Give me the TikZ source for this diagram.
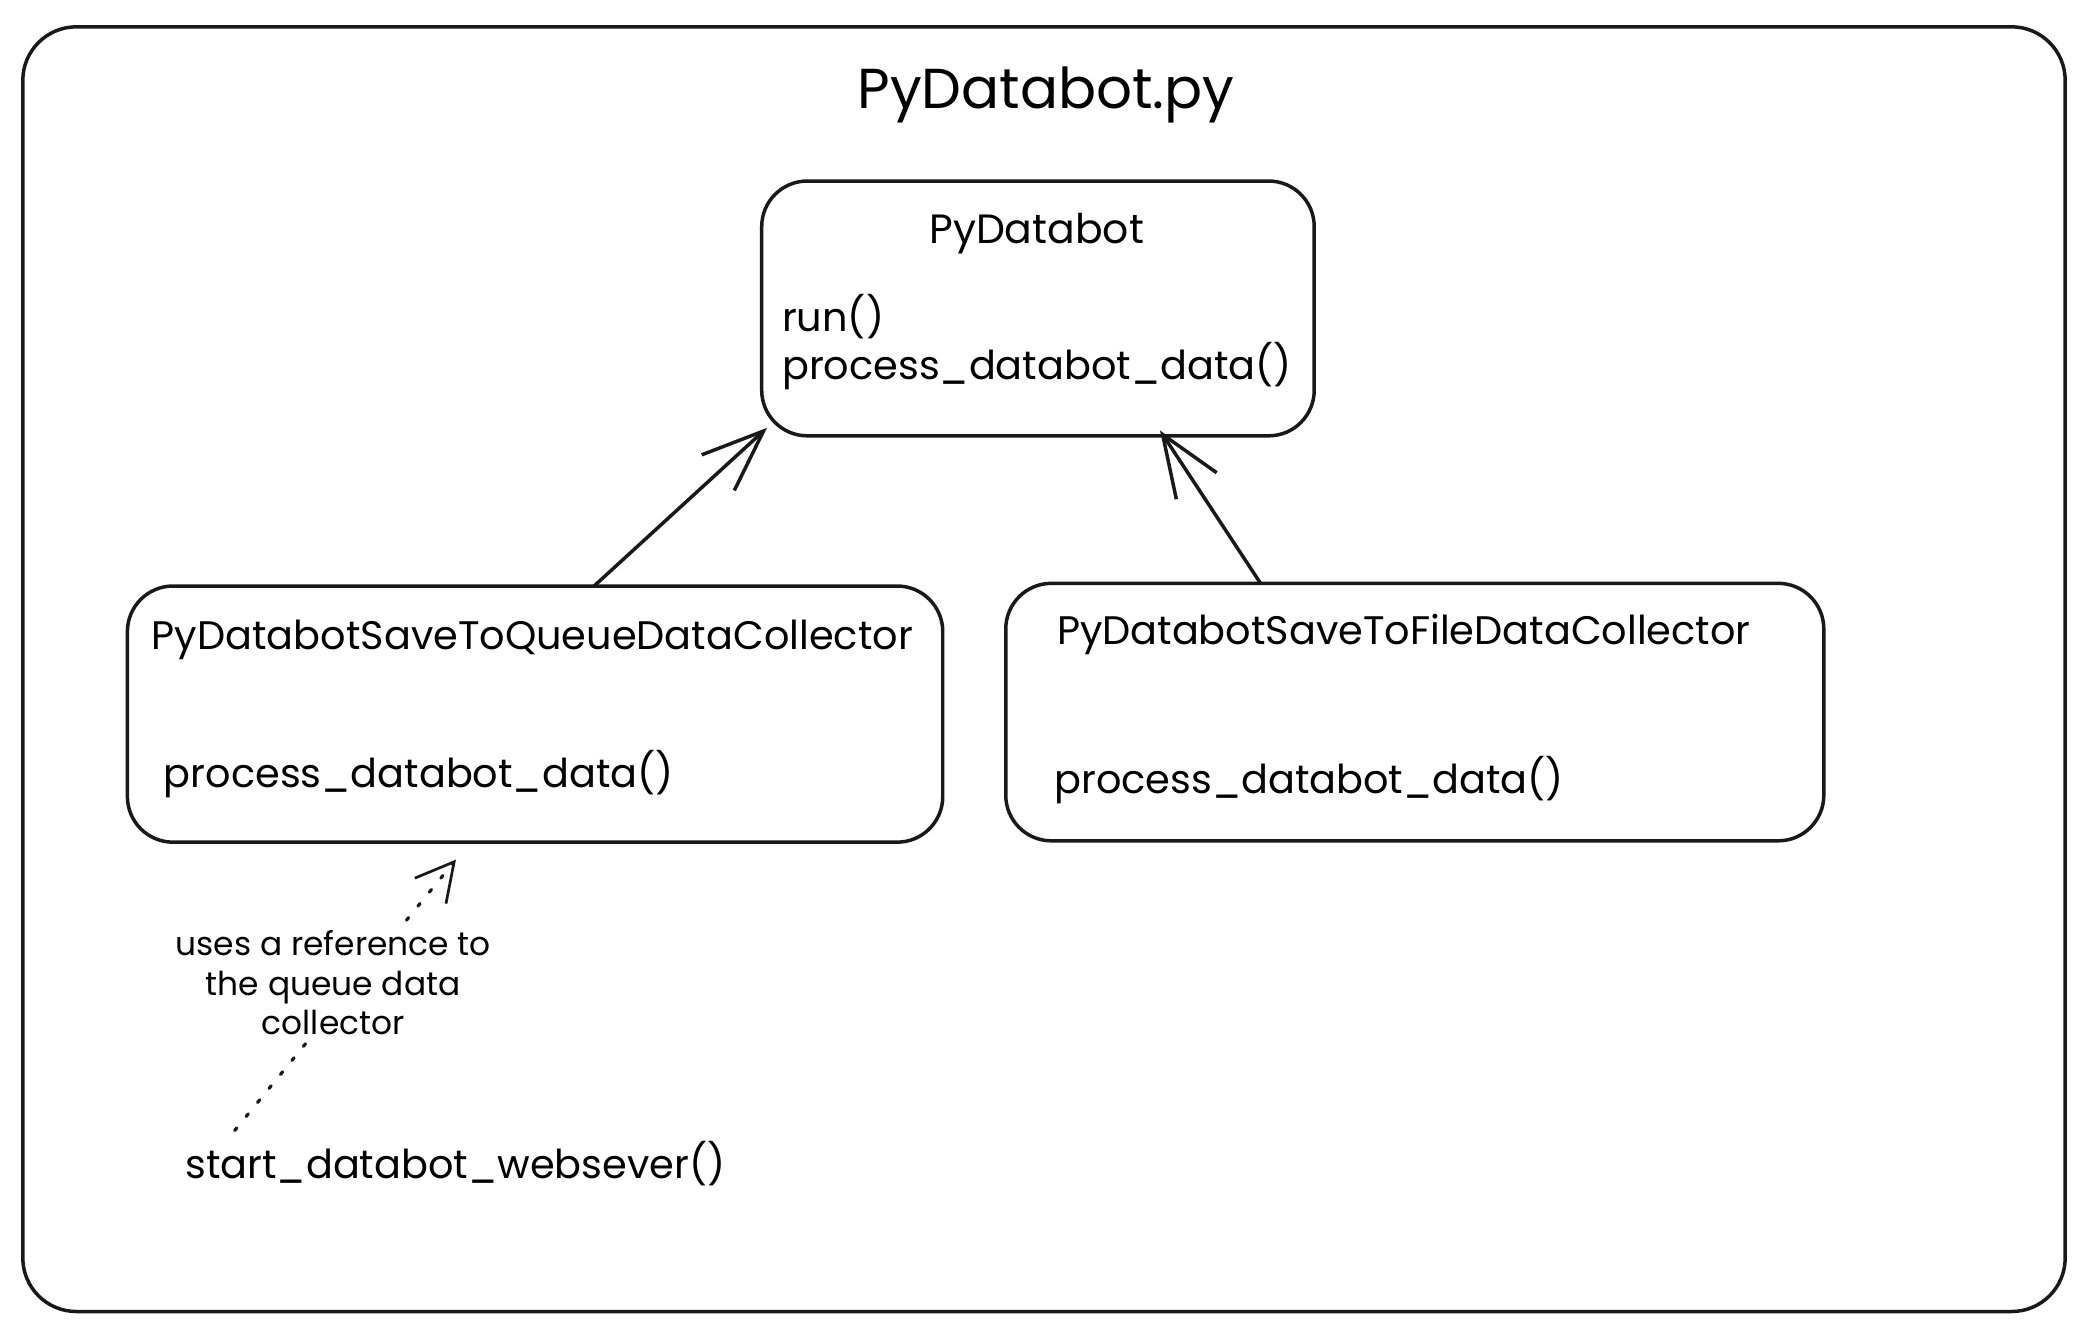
\documentclass[tikz,border=0pt]{standalone}
\usepackage{fontspec}
\setmainfont{Poppins}
\usetikzlibrary{arrows.meta}
\tikzset{
  sketchbox/.style={draw=black!90, line width=2.6pt, rounded corners=34pt, inner sep=0pt},
  lbl/.style={inner sep=0pt, anchor=west, font=\fontsize{29.7}{34}\selectfont},
  ttl/.style={inner sep=0pt, font=\fontsize{30.5}{34}\selectfont},
  inh/.style={draw=black!90, line width=2.6pt, -{Straight Barb[length=46pt,width=36pt,line width=2.6pt]}},
  refarrow/.style={draw=black!90, line width=2.4pt, line cap=round, dash pattern=on 2.5pt off 11pt, -{Straight Barb[length=28pt,width=30pt,line width=2pt,sep=0pt]}},
}
\begin{document}
\begin{tikzpicture}[x=1pt,y=-1pt]
\useasboundingbox (0,0) rectangle (1560,994.8);
\fill[white] (0,0) rectangle (1560,994.8);
% outer frame
\node[sketchbox, rounded corners=40pt, minimum width=1523pt, minimum height=958pt] (frame) at (778.5,499) {};
\node[inner sep=0pt, font=\fontsize{42}{50}\selectfont] (title) at (780,71) {PyDatabot.py};
% boxes
\node[sketchbox, minimum width=412pt, minimum height=190pt] (pbox) at (774,230) {};
\node[sketchbox, minimum width=608pt, minimum height=191pt] (qbox) at (399,532.5) {};
\node[sketchbox, minimum width=610pt, minimum height=192pt] (fbox) at (1055,531) {};
% texts
\node[ttl] (ptitle) at (773,174) {PyDatabot};
\node[lbl] (prun) at (583,236) {run()};
\node[lbl] (pproc) at (583,273) {process\_databot\_data()};
\node[lbl] (qtitle) at (113,477) {PyDatabotSaveToQueueDataCollector};
\node[lbl] (qproc) at (122,577) {process\_databot\_data()};
\node[lbl] (ftitle) at (788,473) {PyDatabotSaveToFileDataCollector};
\node[lbl] (fproc) at (786,582) {process\_databot\_data()};
\node[lbl] (web) at (138,868) {start\_databot\_websever()};
% inheritance arrows
\coordinate (q1) at (443,437);
\coordinate (p1) at (572,319);
\coordinate (f1) at (940,435);
\coordinate (p2) at (865,321);
\draw[inh] (q1) -- (p1);
\draw[inh] (f1) -- (p2);
% reference
\coordinate (w1) at (175,843);
\coordinate (q2) at (340,641);
\draw[refarrow] (w1) -- (q2) node[pos=0.5, xshift=-9pt, yshift=9pt, fill=white, inner sep=3pt, align=center, font=\fontsize{24.5}{29.5}\selectfont] (note) {uses a reference to\\the queue data\\collector};
\end{tikzpicture}
\end{document}
